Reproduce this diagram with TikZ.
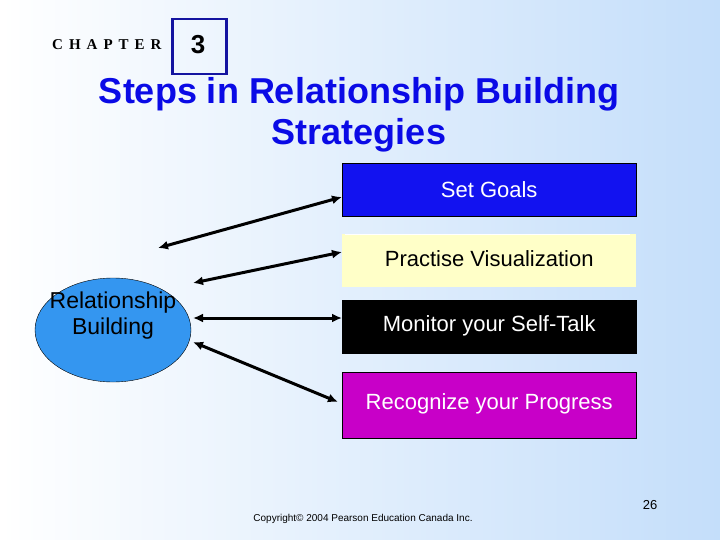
\documentclass[tikz,border=0pt]{standalone}
\usepackage{fontspec}
\setmainfont{Liberation Sans}
\newfontfamily\serifx{Liberation Serif}
\usetikzlibrary{arrows.meta,shapes.geometric}
\definecolor{bgr}{RGB}{196,222,250}
\definecolor{bubble}{RGB}{52,150,240}
\definecolor{goalc}{RGB}{18,18,240}
\definecolor{visc}{RGB}{255,255,200}
\definecolor{recc}{RGB}{200,0,200}
\definecolor{boxb}{RGB}{20,20,160}
\definecolor{titlec}{RGB}{10,10,230}
\begin{document}
\begin{tikzpicture}[x=1pt,y=-1pt,
  stepbox/.style={draw=black,minimum width=294pt,minimum height=53pt,anchor=north west,inner sep=0pt,font=\fontsize{22}{24}\selectfont},
  link/.style={line width=3pt,{Latex[length=10pt,width=9pt]}-{Latex[length=10pt,width=9pt]}}]
\shade[left color=white,right color=bgr] (0,0) rectangle (720,540);
\useasboundingbox (0,0) rectangle (720,540);
\node[font=\serifx\bfseries\fontsize{15}{16}\selectfont,anchor=west,inner sep=0pt] (chap) at (52,45) {C\kern6pt H\kern6pt A\kern6pt P\kern6pt T\kern6pt E\kern6pt R};
\node[draw=boxb,line width=2.5pt,minimum width=54pt,minimum height=55pt,anchor=north west] (num) at (171,18) {};
\node[font=\bfseries\fontsize{26}{28}\selectfont] (numt) at (198,45) {3};
\node[font=\bfseries\fontsize{36}{41}\selectfont,align=center,text=titlec] (title) at (359,115) {Steps in Relationship Building\\Strategies};
\node[ellipse,draw=black,fill=bubble,minimum width=156pt,minimum height=104pt,inner sep=0pt] (rb) at (113,330) {};
\node[align=center,font=\fontsize{23}{26}\selectfont] (rbt) at (113,316) {Relationship\\Building};
\node[stepbox,fill=goalc,text=white] (g) at (342,163) {\raisebox{-7pt}{Set Goals}};
\node[stepbox,fill=visc,draw=none] (v) at (342,234) {\raisebox{4pt}{Practise Visualization}};
\draw[white,line width=1.5pt] (345,234.5) -- (630,234.5);
\node[stepbox,fill=black,text=white] (m) at (342,300) {\raisebox{7pt}{Monitor your Self-Talk}};
\node[stepbox,fill=recc,text=white,minimum height=66pt] (r) at (342,372) {\raisebox{8pt}{Recognize your Progress}};
\coordinate (a1) at (158,248); \coordinate (b1) at (342,197);
\coordinate (a2) at (193,283); \coordinate (b2) at (342,252);
\coordinate (a3) at (193,318); \coordinate (b3) at (342,318);
\coordinate (a4) at (193,342); \coordinate (b4) at (338,402);
\draw[link] (a1) -- (b1);
\draw[link] (a2) -- (b2);
\draw[link] (a3) -- (b3);
\draw[link] (a4) -- (b4);
\node[font=\fontsize{13}{14}\selectfont] (pg) at (650,505) {26};
\node[font=\fontsize{10}{12}\selectfont] (cp) at (363,519) {Copyright© 2004 Pearson Education Canada Inc.};
\end{tikzpicture}
\end{document}
